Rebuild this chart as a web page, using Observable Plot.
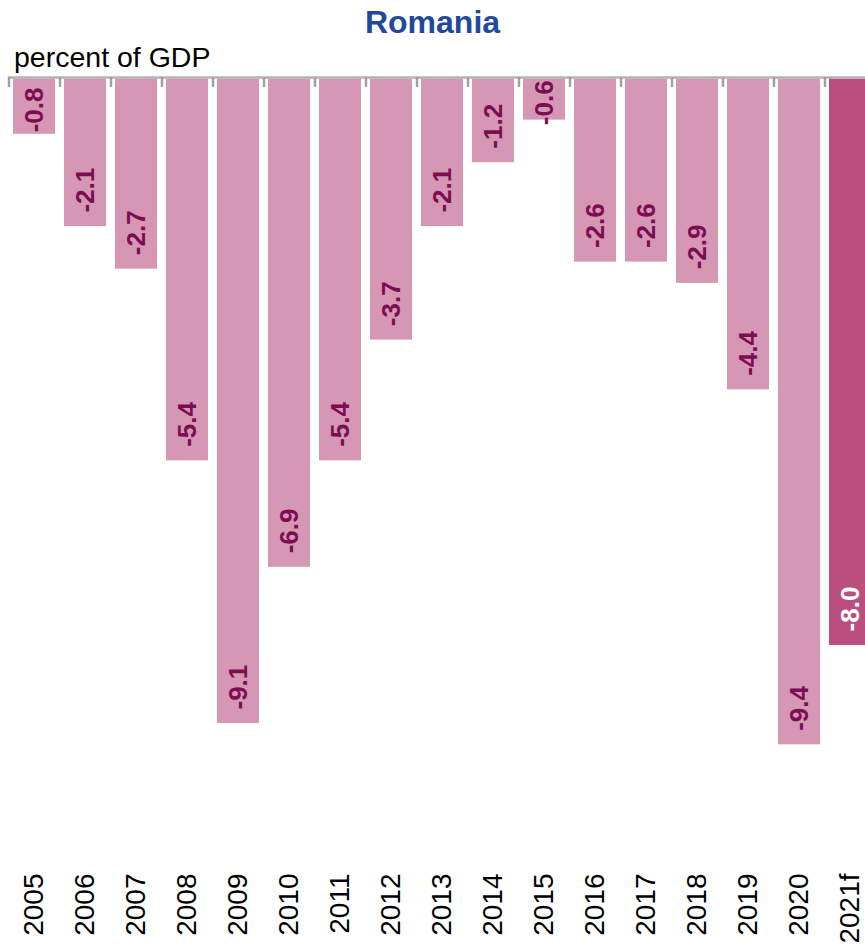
<!DOCTYPE html>
<html>
<head>
<meta charset="utf-8">
<script src="https://cdn.jsdelivr.net/npm/d3@7"></script>
<script src="https://cdn.jsdelivr.net/npm/@observablehq/plot@0.6"></script>
<style>
  html, body { margin: 0; padding: 0; background: #fff; }
  #wrap { width: 865px; height: 946px; overflow: hidden; font-family: "Liberation Sans", Arial, sans-serif; }
  #title { height: 42px; line-height: 44px; text-align: center; font-size: 32px; font-weight: bold; color: #21489b; }
  #sub { height: 30px; line-height: 30px; font-size: 28.5px; padding-left: 14px; color: #000; }
</style>
</head>
<body>
<div id="wrap">
  <div id="title">Romania</div>
  <div id="sub">percent of GDP</div>
  <div id="chart"></div>
</div>
<script>
const years = ["2005","2006","2007","2008","2009","2010","2011","2012","2013","2014","2015","2016","2017","2018","2019","2020","2021f"];
const values = [-0.8,-2.1,-2.7,-5.4,-9.1,-6.9,-5.4,-3.7,-2.1,-1.2,-0.6,-2.6,-2.6,-2.9,-4.4,-9.4,-8.0];
const forecast = [false,false,false,false,false,false,false,false,false,false,false,false,false,false,false,false,true];

const data = years.map((y, i) => ({year: y, value: values[i], forecast: forecast[i]}));
const bigLabels = data.filter(d => Math.abs(d.value) >= 1);
const smallLabels = data.filter(d => Math.abs(d.value) < 1);

const xRange = [8, 875];
const step = (xRange[1] - xRange[0]) / years.length;

const chart = Plot.plot({
  width: 865,
  height: 874,
  marginTop: 5,
  marginBottom: 81,
  marginLeft: 8,
  marginRight: 0,
  style: {fontFamily: "'Liberation Sans', Arial, sans-serif", background: "#fff", overflow: "hidden"},
  x: {domain: years, range: xRange, paddingInner: 0.18, paddingOuter: 0.09},
  y: {domain: [-11.1, 0], axis: null},
  marks: [
    Plot.barY(data, {x: "year", y: "value", fill: d => d.forecast ? "#b94f7f" : "#d597b4", insetTop: 1.5}),
    Plot.ruleY([0], {stroke: "#b3b3b3", strokeWidth: 2.5}),
    Plot.ruleX(years, {x: d => d, y1: 0, y2: -0.14, dx: -step / 2, stroke: "#a0a0a0", strokeWidth: 2.5}),
    Plot.text(bigLabels, {x: "year", y: "value", text: d => d.value.toFixed(1), rotate: -90, textAnchor: "start", lineAnchor: "middle", dy: -14, fontSize: 26, fontWeight: "bold", fill: d => d.forecast ? "#ffffff" : "#7d0d52"}),
    Plot.text(smallLabels, {x: "year", y: d => d.value / 2, text: d => d.value.toFixed(1), rotate: -90, textAnchor: "middle", lineAnchor: "middle", dy: 4, fontSize: 26, fontWeight: "bold", fill: "#7d0d52"}),
    Plot.axisX({anchor: "bottom", tickSize: 0, tickPadding: 8, tickRotate: -90, fontSize: 28, fill: "#000", label: null})
  ]
});
document.getElementById("chart").appendChild(chart);
</script>
</body>
</html>
